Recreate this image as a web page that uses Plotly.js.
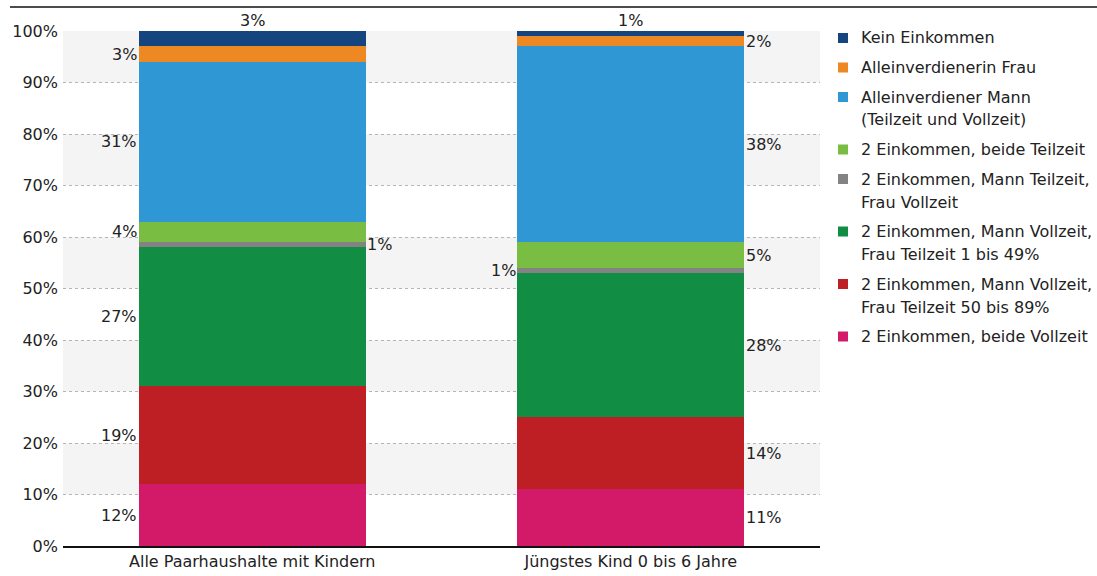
<!DOCTYPE html>
<html><head><meta charset="utf-8">
<script src="https://cdn.plot.ly/plotly-3.0.1.min.js"></script>
<style>body{margin:0;background:#fff}#c{width:1097px;height:576px}</style>
</head><body><div id="c"></div>
<script>
const categories = ["Alle Paarhaushalte mit Kindern", "Jüngstes Kind 0 bis 6 Jahre"];
const seriesNames = [
  "2 Einkommen, beide Vollzeit",
  "2 Einkommen, Mann Vollzeit,<br>Frau Teilzeit 50 bis 89%",
  "2 Einkommen, Mann Vollzeit,<br>Frau Teilzeit 1 bis 49%",
  "2 Einkommen, Mann Teilzeit,<br>Frau Vollzeit",
  "2 Einkommen, beide Teilzeit",
  "Alleinverdiener Mann<br>(Teilzeit und Vollzeit)",
  "Alleinverdienerin Frau",
  "Kein Einkommen"
];
const colors = ["#d31a69", "#bd1f25", "#128e44", "#838383", "#7abd43", "#2e97d4", "#ed8822", "#15457f"];
const alleValues   = [12, 19, 27, 1, 4, 31, 3, 3];
const juengstValues = [11, 14, 28, 1, 5, 38, 2, 1];
// label side per segment: 'l' left of bar, 'r' right of bar, 't' above bar
const alleSides   = ['l','l','l','r','l','l','l','t'];
const juengstSides = ['r','r','r','l','r','r','r','t'];

const font = "'DejaVu Sans', sans-serif";
const txt = "#222";
const fs = 16;
const W = 1097, H = 576, M = {l: 63, r: 277, t: 31, b: 30};
const pw = W - M.l - M.r, ph = H - M.t - M.b;
const px2x = p => (p - M.l) / pw;
const py2y = p => (H - M.b - p) / ph;

const traces = seriesNames.map((n, i) => ({
  type: 'bar', name: n.replace('<br>', ' '), x: categories, y: [alleValues[i], juengstValues[i]],
  marker: {color: colors[i], line: {width: 0}}, hoverinfo: 'skip', showlegend: false
}));

const annotations = [];
[[alleValues, alleSides, 0], [juengstValues, juengstSides, 1]].forEach(([vals, sides, ci]) => {
  let cum = 0;
  vals.forEach((v, i) => {
    const mid = cum + v / 2; cum += v;
    const s = sides[i];
    const a = {xref: 'x', yref: 'y', x: categories[ci], text: v + '%', showarrow: false,
      font: {family: font, size: fs, color: txt}};
    if (s === 't') { a.y = cum; a.yanchor = 'bottom'; a.yshift = -1; }
    else if (s === 'l') { a.y = mid; a.xanchor = 'right'; a.xshift = -113; }
    else { a.y = mid; a.xanchor = 'left'; a.xshift = 113; }
    annotations.push(a);
  });
});

const tickVals = [0,10,20,30,40,50,60,70,80,90,100];
const shapes = [];
for (let k = 1; k < tickVals.length; k += 2) {
  shapes.push({type: 'rect', xref: 'paper', yref: 'y', x0: 0, x1: 1, y0: tickVals[k], y1: tickVals[k+1],
    fillcolor: '#f4f4f4', line: {width: 0}, layer: 'below'});
}
shapes.push({type: 'line', xref: 'paper', yref: 'paper', x0: px2x(10), x1: px2x(1097), y0: py2y(7), y1: py2y(7),
  line: {color: '#111', width: 1.5}});

// legend (reversed order: top entry is last series)
let ly = 38;
for (let i = seriesNames.length - 1; i >= 0; i--) {
  const lines = seriesNames[i].split('<br>');
  shapes.push({type: 'rect', xref: 'paper', yref: 'paper', x0: px2x(838), x1: px2x(848),
    y0: py2y(ly - 5), y1: py2y(ly + 5), fillcolor: colors[i], line: {width: 0}});
  lines.forEach((t, j) => {
    annotations.push({xref: 'paper', yref: 'paper', x: px2x(859), y: py2y(ly + j * 23), xanchor: 'left', yanchor: 'middle',
      text: t, showarrow: false, font: {family: font, size: fs, color: txt}});
  });
  ly += (lines.length - 1) * 23 + 29.5;
}

Plotly.newPlot('c', traces, {
  width: W, height: H,
  margin: M,
  paper_bgcolor: '#fff', plot_bgcolor: 'rgba(0,0,0,0)',
  barmode: 'stack', bargap: 0.4, showlegend: false,
  font: {family: font, size: fs, color: txt},
  xaxis: {showline: true, linecolor: '#111', linewidth: 1.5, ticks: '', tickfont: {size: fs, color: txt}, fixedrange: true},
  yaxis: {range: [0, 100], tickvals: tickVals, ticktext: tickVals.map(t => t + '%'), showgrid: true,
    gridcolor: '#b5b5b5', griddash: 'dot', gridwidth: 1, zeroline: false, ticks: '', ticklabelstandoff: 4,
    tickfont: {size: fs, color: txt}},
  shapes: shapes, annotations: annotations
}, {displayModeBar: false, staticPlot: true});
</script></body></html>
